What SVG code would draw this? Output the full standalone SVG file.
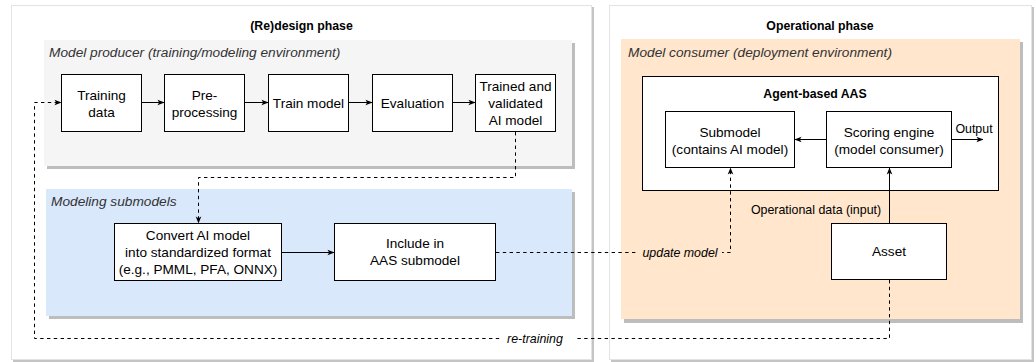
<svg xmlns="http://www.w3.org/2000/svg" width="1036" height="362" viewBox="0 0 1036 362">
  <defs>
    <marker id="arr" viewBox="0 0 8 8" refX="7.5" refY="4" markerWidth="7" markerHeight="7" markerUnits="userSpaceOnUse" orient="auto">
      <path d="M0,0.8 L8,4 L0,7.2 L2,4 z" fill="#000"/>
    </marker>
  </defs>
  <style>
    .panel { fill: #ffffff; stroke: #e3e3e3; stroke-width: 1; }
    .pshadow { fill: #c4c4c4; }
    .ashadow { fill: #bdbdbd; }
    .box { fill: #ffffff; stroke: #000; stroke-width: 1; }
    .t { font-family: "Liberation Sans", Arial, sans-serif; font-size: 13.6px; fill: #000; text-anchor: middle; }
    .title { font-family: "Liberation Sans", Arial, sans-serif; font-size: 12.3px; font-weight: bold; fill: #000; text-anchor: middle; }
    .area { font-family: "Liberation Sans", Arial, sans-serif; font-size: 13.7px; font-style: italic; fill: #333; }
    .lbl { font-family: "Liberation Sans", Arial, sans-serif; font-size: 12.4px; fill: #000; text-anchor: middle; }
    .lbli { font-family: "Liberation Sans", Arial, sans-serif; font-size: 12.4px; font-style: italic; fill: #000; text-anchor: middle; }
    .solid { fill: none; stroke: #000; stroke-width: 1; }
    .dash { fill: none; stroke: #000; stroke-width: 1; stroke-dasharray: 3.4 3.4; }
  </style>

  <!-- phase panels -->
  <g id="redesign-phase">
    <rect class="pshadow" x="13" y="7" width="581" height="355"/>
    <rect class="panel" x="11.5" y="5.5" width="580" height="354"/>
    <text class="title" x="301.5" y="30">(Re)design phase</text>
  </g>
  <g id="operational-phase">
    <rect class="pshadow" x="611" y="7" width="423" height="355"/>
    <rect class="panel" x="609.5" y="5.5" width="422" height="354"/>
    <text class="title" x="820" y="30">Operational phase</text>
  </g>

  <!-- environment areas -->
  <g id="model-producer">
    <rect class="ashadow" x="47" y="43" width="528" height="126"/>
    <rect x="44" y="40" width="528" height="126" fill="#f5f5f5"/>
    <text class="area" x="49" y="57">Model producer (training/modeling environment)</text>
  </g>
  <g id="modeling-submodels">
    <rect class="ashadow" x="49" y="192" width="526" height="127"/>
    <rect x="46" y="189" width="526" height="127" fill="#dae8fc"/>
    <text class="area" x="51" y="206">Modeling submodels</text>
  </g>
  <g id="model-consumer">
    <rect class="ashadow" x="624" y="42" width="399" height="281"/>
    <rect x="621" y="39" width="399" height="280" fill="#ffe6cc"/>
    <text class="area" x="628" y="57">Model consumer (deployment environment)</text>
  </g>

  <!-- model producer pipeline -->
  <g id="training-data">
    <rect class="box" x="61.5" y="74.5" width="80" height="57"/>
    <text class="t" x="101.5" y="100">Training</text>
    <text class="t" x="101.5" y="116.5">data</text>
  </g>
  <g id="pre-processing">
    <rect class="box" x="164.5" y="74.5" width="80" height="57"/>
    <text class="t" x="204.5" y="100">Pre-</text>
    <text class="t" x="204.5" y="116.5">processing</text>
  </g>
  <g id="train-model">
    <rect class="box" x="268.5" y="74.5" width="80" height="57"/>
    <text class="t" x="308.5" y="107.5">Train model</text>
  </g>
  <g id="evaluation">
    <rect class="box" x="372.5" y="74.5" width="80" height="57"/>
    <text class="t" x="412.5" y="107.5">Evaluation</text>
  </g>
  <g id="trained-model">
    <rect class="box" x="475.5" y="74.5" width="80" height="57"/>
    <text class="t" x="515.5" y="91">Trained and</text>
    <text class="t" x="515.5" y="108">validated</text>
    <text class="t" x="515.5" y="125">AI model</text>
  </g>

  <!-- modeling submodels -->
  <g id="convert-model">
    <rect class="box" x="114.5" y="223.5" width="167" height="57"/>
    <text class="t" x="198" y="240">Convert AI model</text>
    <text class="t" x="198" y="257">into standardized format</text>
    <text class="t" x="198" y="274">(e.g., PMML, PFA, ONNX)</text>
  </g>
  <g id="include-submodel">
    <rect class="box" x="334.5" y="223.5" width="161" height="57"/>
    <text class="t" x="415" y="248">Include in</text>
    <text class="t" x="415" y="265">AAS submodel</text>
  </g>

  <!-- model consumer -->
  <g id="agent-based-aas">
    <rect class="box" x="642.5" y="76.5" width="356" height="114"/>
    <text class="title" x="815" y="97.5">Agent-based AAS</text>
  </g>
  <g id="submodel">
    <rect class="box" x="665.5" y="111.5" width="129" height="56"/>
    <text class="t" x="730" y="136.5">Submodel</text>
    <text class="t" x="730" y="154">(contains AI model)</text>
  </g>
  <g id="scoring-engine">
    <rect class="box" x="826.5" y="111.5" width="125" height="56"/>
    <text class="t" x="889" y="136.5">Scoring engine</text>
    <text class="t" x="889" y="154">(model consumer)</text>
  </g>
  <g id="asset">
    <rect class="box" x="831.5" y="223.5" width="115" height="56"/>
    <text class="t" x="889" y="256">Asset</text>
  </g>

  <!-- connectors -->
  <g id="connectors">
    <line class="solid" x1="142" y1="102.5" x2="164" y2="102.5" marker-end="url(#arr)"/>
    <line class="solid" x1="245" y1="102.5" x2="268" y2="102.5" marker-end="url(#arr)"/>
    <line class="solid" x1="349" y1="102.5" x2="372" y2="102.5" marker-end="url(#arr)"/>
    <line class="solid" x1="452" y1="102.5" x2="475" y2="102.5" marker-end="url(#arr)"/>
    <path class="dash" d="M515.5,132 V177.5 H198.5 V223" marker-end="url(#arr)"/>
    <line class="solid" x1="282" y1="252.5" x2="334" y2="252.5" marker-end="url(#arr)"/>
    <path class="dash" d="M496,252.5 H730.5 V168" marker-end="url(#arr)"/>
    <rect x="638" y="244" width="84" height="17" fill="#ffe6cc"/>
    <text class="lbli" x="680" y="256.5">update model</text>
    <line class="solid" x1="826" y1="139.5" x2="795" y2="139.5" marker-end="url(#arr)"/>
    <line class="solid" x1="952" y1="139.5" x2="983" y2="139.5" marker-end="url(#arr)"/>
    <text class="lbl" x="974" y="132.5">Output</text>
    <line class="solid" x1="889.5" y1="223" x2="889.5" y2="168" marker-end="url(#arr)"/>
    <text class="lbl" x="816" y="213.5">Operational data (input)</text>
    <path class="dash" d="M889.5,280 V338.5 H34.5 V102.5 H61" marker-end="url(#arr)"/>
    <rect x="502" y="330" width="74" height="17" fill="#ffffff"/>
    <text class="lbli" x="535" y="342.5">re-training</text>
  </g>
</svg>
